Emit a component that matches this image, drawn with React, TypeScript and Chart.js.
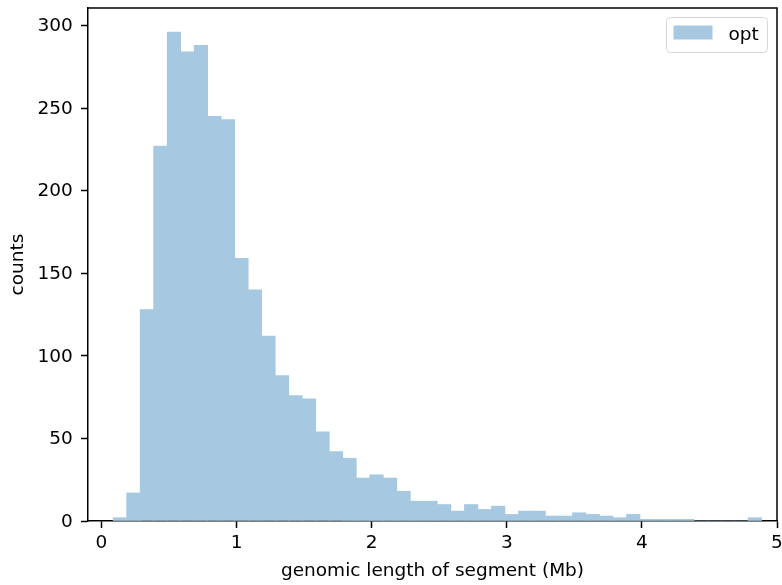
import React, { useEffect, useRef } from "react";
import { Chart, registerables } from "chart.js";

Chart.register(...registerables);

// ---- data ----
const binStart = 0.086;
const binWidth = 0.1;
const counts = [
  2, 17, 128, 227, 296, 284, 288, 245, 243, 159,
  140, 112, 88, 76, 74, 54, 42, 38, 26, 28,
  26, 18, 12, 12, 10, 6, 10, 7, 9, 4,
  6, 6, 3, 3, 5, 4, 3, 2, 4, 1,
  1, 1, 1, 0, 0, 0, 0, 2,
];
const xTicks = [0, 1, 2, 3, 4, 5];
const yTicks = [0, 50, 100, 150, 200, 250, 300];
const seriesLabel = "opt";
const xTitle = "genomic length of segment (Mb)";
const yTitle = "counts";

const FONT = '"DejaVu Sans", sans-serif';
const FONT_SIZE = 18.5;
const BAR_COLOR = "rgb(166,201,225)";
const SPINE_W = 1.5;

const frameLegendPlugin = {
  id: "frameLegend",
  afterDraw(chart: any) {
    const { ctx, chartArea } = chart;
    ctx.save();
    // top and right spines
    ctx.strokeStyle = "#000";
    ctx.lineWidth = SPINE_W;
    ctx.beginPath();
    ctx.moveTo(chartArea.left, chartArea.top);
    ctx.lineTo(chartArea.right, chartArea.top);
    ctx.lineTo(chartArea.right, chartArea.bottom);
    ctx.stroke();

    // legend box
    const w = 101;
    const h = 35;
    const x = Math.round(chartArea.right - 10 - w) + 0.5;
    const y = Math.round(chartArea.top + 9) + 0.5;
    const r = 4;
    ctx.beginPath();
    ctx.moveTo(x + r, y);
    ctx.lineTo(x + w - r, y);
    ctx.arcTo(x + w, y, x + w, y + r, r);
    ctx.lineTo(x + w, y + h - r);
    ctx.arcTo(x + w, y + h, x + w - r, y + h, r);
    ctx.lineTo(x + r, y + h);
    ctx.arcTo(x, y + h, x, y + h - r, r);
    ctx.lineTo(x, y + r);
    ctx.arcTo(x, y, x + r, y, r);
    ctx.closePath();
    ctx.fillStyle = "rgba(255,255,255,0.8)";
    ctx.fill();
    ctx.strokeStyle = "#d6d6d6";
    ctx.lineWidth = 1;
    ctx.stroke();

    ctx.fillStyle = BAR_COLOR;
    ctx.fillRect(x + 7, y + 8, 39, 14);

    ctx.fillStyle = "#000";
    ctx.font = `${FONT_SIZE}px ${FONT}`;
    ctx.textBaseline = "middle";
    ctx.textAlign = "left";
    ctx.fillText(seriesLabel, x + 62, y + h / 2);
    ctx.restore();
  },
};

export default function App() {
  const ref = useRef<HTMLCanvasElement | null>(null);

  useEffect(() => {
    if (!ref.current) return;
    const points = counts.map((c, i) => ({ x: binStart + binWidth * (i + 0.5), y: c }));
    const chart = new Chart(ref.current, {
      type: "bar",
      data: {
        datasets: [
          {
            label: seriesLabel,
            data: points as any,
            backgroundColor: BAR_COLOR,
            borderWidth: 0,
            barPercentage: 1,
            categoryPercentage: 1,
          },
        ],
      },
      options: {
        animation: false,
        responsive: false,
        devicePixelRatio: 1,
        layout: { padding: { top: 8, right: 5, left: 0, bottom: 0 } },
        plugins: { legend: { display: false }, tooltip: { enabled: false } },
        scales: {
          x: {
            type: "linear",
            offset: false,
            min: -0.1,
            max: 5.0,
            afterBuildTicks: (s: any) => {
              s.ticks = xTicks.map((v) => ({ value: v }));
            },
            afterFit: (s: any) => {
              s.height = 64;
              s.paddingLeft = 0;
              s.paddingRight = 0;
            },
            grid: {
              display: true,
              offset: false,
              drawOnChartArea: false,
              drawTicks: true,
              tickLength: 7,
              tickWidth: SPINE_W,
              tickColor: "#000",
              color: "#000",
            },
            border: { display: true, color: "#000", width: SPINE_W },
            ticks: {
              includeBounds: false,
              maxRotation: 0,
              autoSkip: false,
              padding: 4.5,
              color: "#000",
              font: { family: FONT, size: FONT_SIZE },
              callback: (v: any) => String(v),
            },
            title: {
              display: true,
              text: xTitle,
              color: "#000",
              font: { family: FONT, size: FONT_SIZE },
              padding: { top: 0, bottom: 2.6 },
            },
          },
          y: {
            type: "linear",
            min: 0,
            max: 310.6,
            afterBuildTicks: (s: any) => {
              s.ticks = yTicks.map((v) => ({ value: v }));
            },
            afterFit: (s: any) => {
              s.width = 88;
              s.paddingTop = 0;
              s.paddingBottom = 0;
            },
            grid: {
              display: true,
              drawOnChartArea: false,
              drawTicks: true,
              tickLength: 7,
              tickWidth: SPINE_W,
              tickColor: "#000",
              color: "#000",
            },
            border: { display: true, color: "#000", width: SPINE_W },
            ticks: {
              includeBounds: false,
              autoSkip: false,
              padding: 8.3,
              labelOffset: 1,
              color: "#000",
              font: { family: FONT, size: FONT_SIZE },
              callback: (v: any) => String(v),
            },
            title: {
              display: true,
              text: yTitle,
              color: "#000",
              font: { family: FONT, size: FONT_SIZE },
              padding: { top: 7.5, bottom: 0 },
            },
          },
        },
      },
      plugins: [frameLegendPlugin],
    });
    return () => chart.destroy();
  }, []);

  return (
    <div style={{ position: "absolute", left: 0, top: 0, width: 782, height: 585, background: "#fff" }}>
      <canvas ref={ref} width={782} height={585} style={{ width: 782, height: 585, display: "block" }} />
    </div>
  );
}
